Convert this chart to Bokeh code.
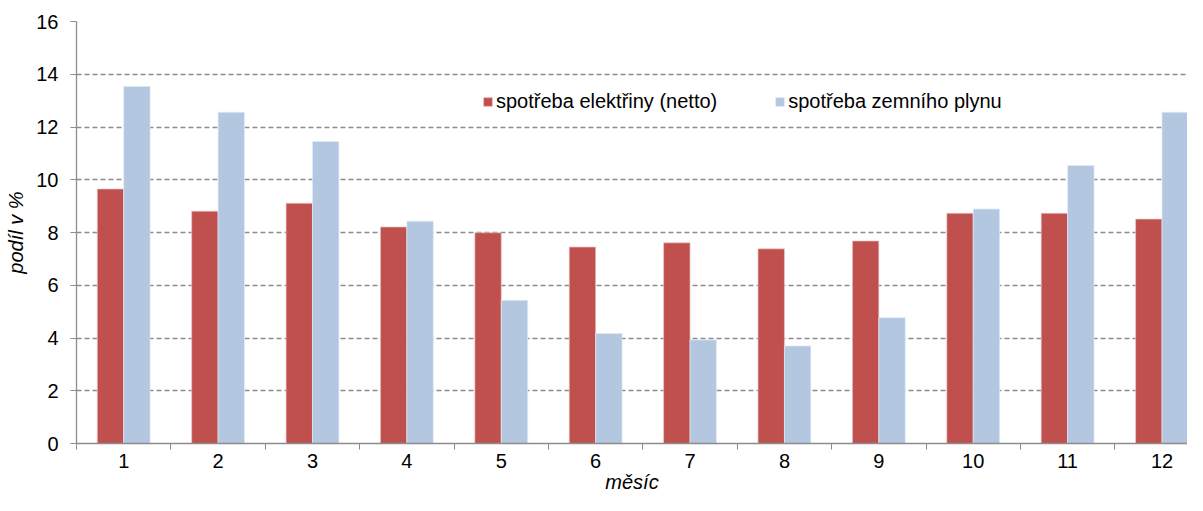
from bokeh.plotting import figure
from bokeh.models import FixedTicker, Legend, LegendItem, ColumnDataSource
from bokeh.embed import file_html
from bokeh.resources import INLINE
from bokeh.transform import dodge

months = ["1", "2", "3", "4", "5", "6", "7", "8", "9", "10", "11", "12"]
elektrina = [9.65, 8.81, 9.11, 8.21, 7.99, 7.45, 7.61, 7.38, 7.68, 8.73, 8.73, 8.51]
plyn = [13.54, 12.56, 11.45, 8.43, 5.43, 4.17, 3.93, 3.70, 4.77, 8.89, 10.54, 12.56]
series_names = ["spotřeba elektřiny (netto)", "spotřeba zemního plynu"]
y_ticks = [0, 2, 4, 6, 8, 10, 12, 14, 16]
x_title = "měsíc"
y_title = "podíl v %"

xs = list(range(1, len(months) + 1))
src = ColumnDataSource(dict(x=xs, e=elektrina, p=plyn))

FONT = "Liberation Sans"
FS = "20px"

p = figure(width=1187, height=495, output_backend="svg", toolbar_location=None,
           x_range=(0.5, 12.27), y_range=(0, 16),
           min_border_left=76, min_border_right=0, min_border_top=21, min_border_bottom=50)
p.outline_line_color = None
p.background_fill_color = "white"

r1 = p.vbar(x=dodge("x", -0.14), top="e", width=0.28, source=src, fill_color="#C0504D",
            line_color="#E8C8C7", line_width=0.7)
r2 = p.vbar(x=dodge("x", 0.14), top="p", width=0.28, source=src, fill_color="#B3C7E1",
            line_color="#E3EBF5", line_width=0.7)

# grid
p.xgrid.grid_line_color = None
p.ygrid.ticker = FixedTicker(ticks=y_ticks[1:])
p.ygrid.grid_line_color = "#8C8C8C"
p.ygrid.grid_line_dash = "5 3"
p.ygrid.grid_line_width = 1.4

# y axis
p.yaxis.ticker = FixedTicker(ticks=y_ticks)
p.yaxis.axis_line_color = "#8C8C8C"
p.yaxis.axis_line_width = 1.3
p.yaxis.major_tick_line_color = "#8C8C8C"
p.yaxis.major_tick_out = 6
p.yaxis.major_tick_in = 0
p.yaxis.minor_tick_line_color = None
p.yaxis.major_label_standoff = 12
p.yaxis.major_label_text_font = FONT
p.yaxis.major_label_text_font_size = FS
p.yaxis.major_label_text_color = "black"
p.yaxis.axis_label = y_title
p.yaxis.axis_label_text_font = FONT
p.yaxis.axis_label_text_font_style = "italic"
p.yaxis.axis_label_text_font_size = FS
p.yaxis.axis_label_text_color = "black"
p.yaxis.axis_label_standoff = 6

# x axis
p.xaxis.ticker = FixedTicker(ticks=xs, minor_ticks=[x - 0.5 for x in xs] + [12.5])
p.xaxis.major_label_overrides = {x: m for x, m in zip(xs, months)}
p.xaxis.axis_line_color = "#8C8C8C"
p.xaxis.axis_line_width = 1.3
p.xaxis.major_tick_line_color = None
p.xaxis.minor_tick_line_color = "#8C8C8C"
p.xaxis.minor_tick_out = 6
p.xaxis.minor_tick_in = 0
p.xaxis.major_label_standoff = 4
p.xaxis.major_label_text_font = FONT
p.xaxis.major_label_text_font_size = FS
p.xaxis.major_label_text_color = "black"
p.xaxis.axis_label = x_title
p.xaxis.axis_label_text_font = FONT
p.xaxis.axis_label_text_font_style = "italic"
p.xaxis.axis_label_text_font_size = FS
p.xaxis.axis_label_text_color = "black"
p.xaxis.axis_label_standoff = 0

legend = Legend(items=[LegendItem(label=series_names[0], renderers=[r1]),
                       LegendItem(label=series_names[1], renderers=[r2])],
                orientation="horizontal", location=(406, 330),
                border_line_color=None, background_fill_alpha=0,
                glyph_width=11, glyph_height=11, label_standoff=3, spacing=57,
                padding=0, margin=0,
                label_text_font=FONT, label_text_font_size=FS, label_text_color="black")
p.add_layout(legend)

open("out.html", "w").write(file_html(p, INLINE))
